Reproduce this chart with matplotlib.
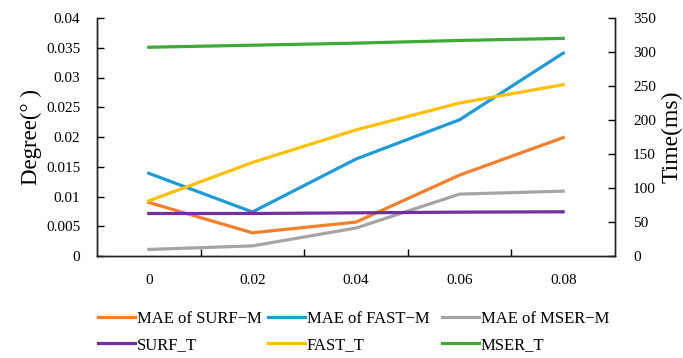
import matplotlib
matplotlib.use("Agg")
import matplotlib.pyplot as plt

plt.rcParams['font.family'] = ['Liberation Serif', 'DejaVu Serif']

# noise levels (categories)
categories = ["0", "0.02", "0.04", "0.06", "0.08"]

# MAE (degree) - left axis
mae_surf = [0.0090, 0.0039, 0.0057, 0.0136, 0.0199]
mae_fast = [0.0139, 0.0074, 0.0163, 0.0229, 0.0341]
mae_mser = [0.0011, 0.0017, 0.0047, 0.0104, 0.0109]

# time (ms) - right axis
surf_t = [62.5, 62.5, 63.5, 64.5, 65.0]
fast_t = [81.0, 137.5, 185.5, 225.0, 252.0]
mser_t = [307.0, 310.0, 313.0, 317.0, 320.0]

c_orange = "#F47F2B"
c_blue = "#1E9AD6"
c_gray = "#A5A5A5"
c_purple = "#7030A0"
c_yellow = "#FFC000"
c_green = "#3DAA35"
lw = 2.3

fig = plt.figure(figsize=(6.83, 3.58), dpi=100)
ax = fig.add_axes([97 / 683, 1 - 256 / 358, 518 / 683, 238 / 358])
ax2 = ax.twinx()

x = range(len(categories))
l1, = ax.plot(x, mae_surf, color=c_orange, lw=lw, label="MAE of SURF\u2212M")
l2, = ax.plot(x, mae_fast, color=c_blue, lw=lw, label="MAE of FAST\u2212M")
l3, = ax.plot(x, mae_mser, color=c_gray, lw=lw, label="MAE of MSER\u2212M")
l4, = ax2.plot(x, surf_t, color=c_purple, lw=lw, label="SURF_T")
l5, = ax2.plot(x, fast_t, color=c_yellow, lw=lw, label="FAST_T")
l6, = ax2.plot(x, mser_t, color=c_green, lw=lw, label="MSER_T")

ax.set_xlim(-0.5, len(categories) - 0.5)
ax.set_ylim(0, 0.04)
ax2.set_ylim(0, 350)
ax.set_yticks([0, 0.005, 0.01, 0.015, 0.02, 0.025, 0.03, 0.035, 0.04])
ax.set_yticklabels(["0", "0.005", "0.01", "0.015", "0.02", "0.025", "0.03", "0.035", "0.04"])
ax2.set_yticks(range(0, 351, 50))

# category labels centered, tick marks between categories
ax.set_xticks(list(x))
ax.set_xticklabels(categories)
ax.set_xticks([i + 0.5 for i in range(len(categories) - 1)], minor=True)
ax.tick_params(axis='x', which='major', length=0, pad=13, labelsize=11)
ax.tick_params(axis='x', which='minor', length=5, direction='in', width=1)

ax.tick_params(axis='y', labelsize=11, length=5, width=1, direction='in', pad=12)
ax2.tick_params(axis='y', labelsize=11, length=5, width=1, direction='in', pad=13)

for a in (ax, ax2):
    a.spines['top'].set_visible(False)
    for s in ('left', 'right', 'bottom'):
        a.spines[s].set_linewidth(1)
        a.spines[s].set_color("#222222")

ax.set_ylabel("Degree(\u00b0 )", fontsize=16.5, labelpad=3)
ax2.set_ylabel("Time(ms)", fontsize=17, labelpad=4)

# legend: three columns placed at fixed positions, two rows each
cols = [(l1, l4, 98), (l2, l5, 268), (l3, l6, 442)]
for h_top, h_bot, xpix in cols:
    fig.legend([h_top, h_bot], [h_top.get_label(), h_bot.get_label()],
               loc='center left', bbox_to_anchor=(xpix / 683, 1 - 332 / 358),
               frameon=False, fontsize=12, handlelength=2.2,
               handletextpad=0.12, labelspacing=0.6, borderpad=0,
               borderaxespad=0)

fig.savefig("out.png", dpi=100)
